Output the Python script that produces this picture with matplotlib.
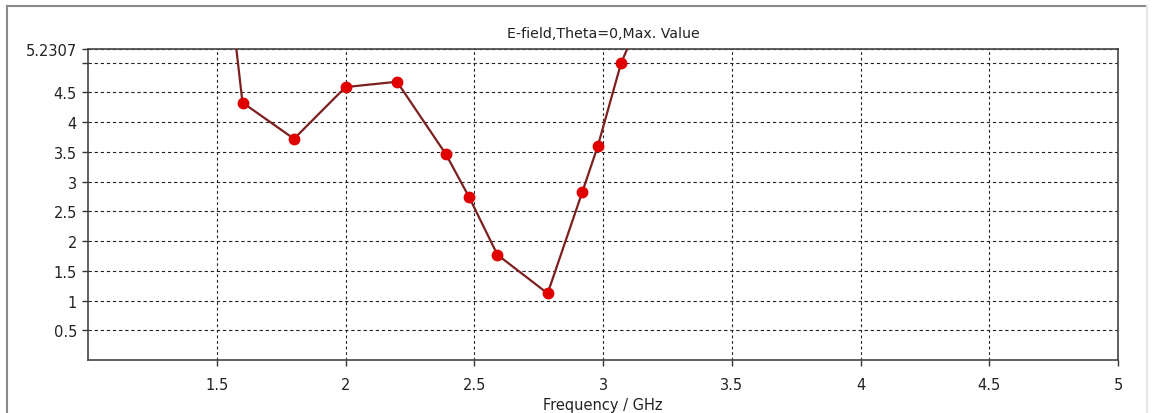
import matplotlib
matplotlib.use("Agg")
import matplotlib.pyplot as plt
from matplotlib.lines import Line2D

# frequency (GHz) and E-field max value
freq = [1.5, 1.6, 1.8, 2.0, 2.2, 2.39, 2.48, 2.59, 2.785, 2.92, 2.98, 3.07, 3.2]
efield = [8.1, 4.33, 3.72, 4.59, 4.68, 3.46, 2.74, 1.77, 1.12, 2.83, 3.60, 4.99, 6.3]

y_max = 5.2307
y_ticks = [0.5, 1, 1.5, 2, 2.5, 3, 3.5, 4, 4.5, 5, y_max]
y_labels = ['0.5', '1', '1.5', '2', '2.5', '3', '3.5', '4', '4.5', '', '5.2307']
x_ticks = [1.5, 2, 2.5, 3, 3.5, 4, 4.5, 5]
x_labels = ['1.5', '2', '2.5', '3', '3.5', '4', '4.5', '5']

W, H = 1158, 414
fig = plt.figure(figsize=(W / 100, H / 100), dpi=100)
ax = fig.add_axes([88 / W, (H - 361) / H, (1118 - 88) / W, (361 - 50) / H])

ax.plot(freq, efield, color='#7d1f1f', linewidth=1.6, marker='o', markersize=7.5,
        markerfacecolor='#e00000', markeredgecolor='#e00000', clip_on=True, zorder=3)

ax.set_xlim(1, 5)
ax.set_ylim(0, y_max)
ax.set_xticks(x_ticks)
ax.set_xticklabels(x_labels)
ax.set_yticks(y_ticks)
ax.set_yticklabels(y_labels)
ax.tick_params(direction='out', length=4, width=1, colors='#333333', labelsize=10.5,
               labelcolor='#222222')
ax.tick_params(axis='x', pad=8)
ax.tick_params(axis='y', pad=4)

ax.grid(True, axis='y', color='#222222', linestyle=(0, (3, 2.5)), linewidth=0.8)
ax.grid(True, axis='x', color='#222222', linestyle=(0, (2.5, 2.5)), linewidth=0.8)
for s in ax.spines.values():
    s.set_color('#444444')
    s.set_linewidth(1.2)

ax.set_title('E-field,Theta=0,Max. Value', fontsize=10.2, color='#222222', pad=9)
ax.set_xlabel('Frequency / GHz', fontsize=10.5, color='#222222', labelpad=4)

# outer panel border
fig.add_artist(Line2D([7 / W, 7 / W], [0, 1 - 7 / H], transform=fig.transFigure,
                      color='#8a8a8a', linewidth=1.5))
fig.add_artist(Line2D([7 / W, 1147 / W], [1 - 7 / H, 1 - 7 / H], transform=fig.transFigure,
                      color='#8a8a8a', linewidth=1.5))
fig.add_artist(Line2D([1147 / W, 1147 / W], [0, 1 - 7 / H], transform=fig.transFigure,
                      color='#e6e6e6', linewidth=1.5))

fig.savefig('out.png', dpi=100)
